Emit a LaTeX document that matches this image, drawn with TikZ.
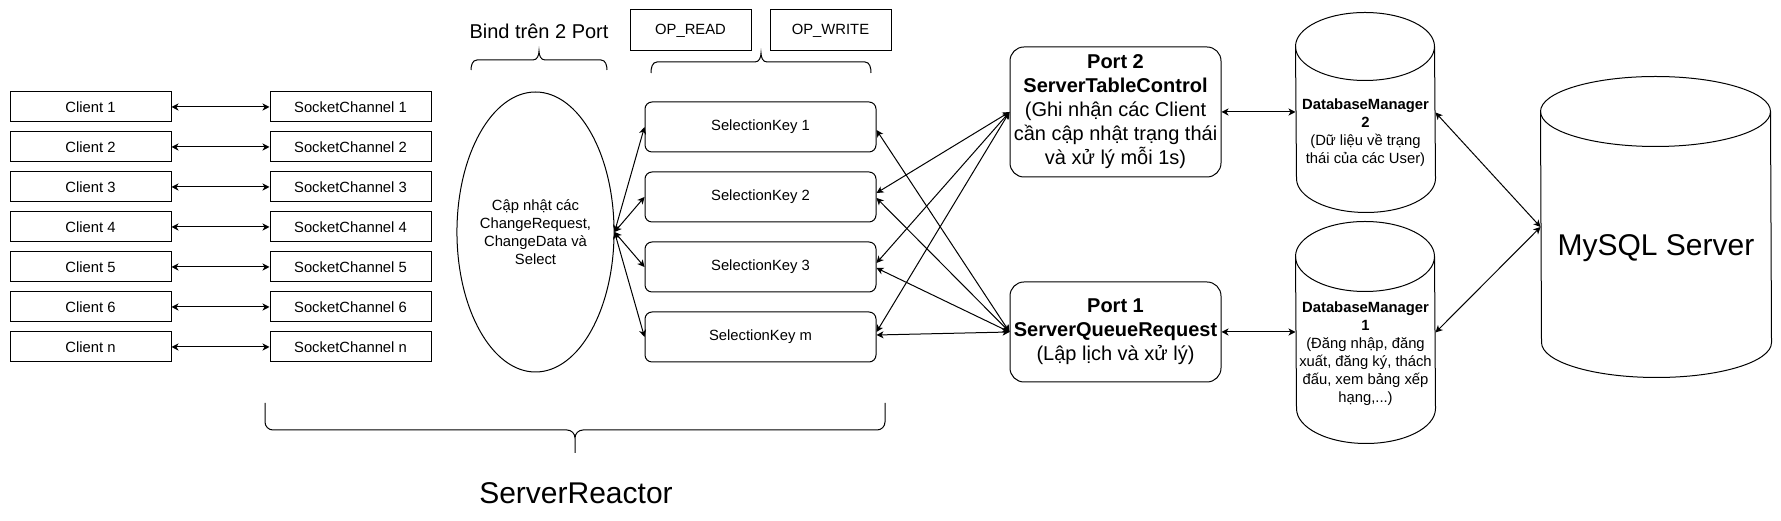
\documentclass[tikz,border=0pt]{standalone}
\usepackage{fontspec}
\setmainfont{Liberation Sans}
\usetikzlibrary{positioning, shapes.geometric, arrows.meta}

% cylinder outline round a named node: node, x radius, y radius
\newcommand{\dbcyl}[3]{%
  \draw ([yshift=-#3]#1.north west) arc[start angle=180, end angle=0, x radius=#2, y radius=#3]
    -- ([yshift=#3]#1.south east) arc[start angle=0, end angle=-180, x radius=#2, y radius=#3] -- cycle;
  \draw ([yshift=-#3]#1.north west) arc[start angle=180, end angle=360, x radius=#2, y radius=#3];
}

\begin{document}
\begin{tikzpicture}[x=1pt, y=1pt, line width=1pt,
    font=\fontsize{14.8}{18}\selectfont,
    box/.style={draw, minimum width=161pt, minimum height=30pt, inner sep=0pt},
    opbox/.style={draw, minimum width=121pt, minimum height=41pt, inner sep=0pt},
    keybox/.style={draw, rounded corners=7pt, minimum width=231pt, minimum height=50pt, inner sep=0pt},
    portbox/.style={draw, rounded corners=14pt, minimum width=211pt, inner sep=0pt, align=center,
      font=\fontsize{20}{24}\selectfont},
    dbnode/.style={minimum width=139pt, inner sep=0pt},
    biarrow/.style={{Stealth[length=7pt,width=7pt,inset=2pt]}-{Stealth[length=7pt,width=7pt,inset=2pt]}},
  ]
  \useasboundingbox (0,0) rectangle (1781,521);

  % clients and their channels
  \node[box] (c1) at (90.5,414) {Client 1};
  \node[box] (c2) [below=9pt of c1] {Client 2};
  \node[box] (c3) [below=9pt of c2] {Client 3};
  \node[box] (c4) [below=9pt of c3] {Client 4};
  \node[box] (c5) [below=9pt of c4] {Client 5};
  \node[box] (c6) [below=9pt of c5] {Client 6};
  \node[box] (cn) [below=9pt of c6] {Client n};

  \node[box] (s1) [right=98pt of c1] {SocketChannel 1};
  \node[box] (s2) [right=98pt of c2] {SocketChannel 2};
  \node[box] (s3) [right=98pt of c3] {SocketChannel 3};
  \node[box] (s4) [right=98pt of c4] {SocketChannel 4};
  \node[box] (s5) [right=98pt of c5] {SocketChannel 5};
  \node[box] (s6) [right=98pt of c6] {SocketChannel 6};
  \node[box] (sn) [right=98pt of cn] {SocketChannel n};

  % selector
  \node[draw, ellipse, minimum width=139pt, minimum height=280pt, inner sep=0pt, align=center]
    (sel) at (535.5,289) {Cập nhật các\\ChangeRequest,\\ChangeData và\\Select};
  \node[font=\fontsize{20}{24}\selectfont] (bind) at (539,490) {Bind trên 2 Port};

  \node[opbox] (opr) at (690.5,490.5) {OP\_READ};
  \node[opbox] (opw) [right=18pt of opr] {OP\_WRITE};

  \node[keybox] (k1) at (760.5,394) {SelectionKey 1};
  \node[keybox] (k2) [below=19pt of k1] {SelectionKey 2};
  \node[keybox] (k3) [below=19pt of k2] {SelectionKey 3};
  \node[keybox] (km) [below=19pt of k3] {SelectionKey m};

  % ports
  \node[portbox, minimum height=130pt] (p2) at (1115.5,409)
    {\textbf{Port 2}\\\textbf{ServerTableControl}\\(Ghi nhận các Client\\cần cập nhật trạng thái\\và xử lý mỗi 1s)};
  \node[portbox, minimum height=100pt] (p1) at (1115.5,189)
    {\textbf{Port 1}\\\textbf{ServerQueueRequest}\\(Lập lịch và xử lý)};

  % databases
  \node[dbnode, minimum height=199pt] (db2) at (1365.5,408.5) {};
  \node[dbnode, minimum height=221pt] (db1) at (1365.5,188.5) {};
  \node[minimum width=230pt, minimum height=300pt, inner sep=0pt] (mysql) at (1656,294) {};
  \dbcyl{db2}{69.5pt}{34pt}
  \dbcyl{db1}{69.5pt}{35pt}
  \dbcyl{mysql}{115pt}{35pt}
  \node[align=center] (db2txt) at (1365.5,388)
    {\textbf{DatabaseManager}\\\textbf{2}\\(Dữ liệu về trạng\\thái của các User)};
  \node[align=center] (db1txt) at (1365.5,167)
    {\textbf{DatabaseManager}\\\textbf{1}\\(Đăng nhập, đăng\\xuất, đăng ký, thách\\đấu, xem bảng xếp\\hạng,...)};
  \node[font=\fontsize{30}{36}\selectfont] (mysqltxt) at (1656,273) {MySQL Server};

  \node[font=\fontsize{30}{36}\selectfont] (reactor) at (576,28) {ServerReactor};

  % braces
  \draw (471,451) to[out=90,in=180] (477,461) -- (533,461) to[out=0,in=-90] (539,470)
    to[out=-90,in=180] (545,461) -- (601,461) to[out=0,in=90] (607,451);
  \draw (651,448) to[out=90,in=180] (657,459) -- (755,459) to[out=0,in=-90] (761,468)
    to[out=-90,in=180] (767,459) -- (865,459) to[out=0,in=90] (871,448);
  \draw (265,118) -- (265,99) to[out=-90,in=180] (273,91) -- (567,91) to[out=0,in=90] (575,83) -- (575,68)
    (575,83) to[out=90,in=180] (583,91) -- (877,91) to[out=0,in=-90] (885,99) -- (885,118);

  % links
  \draw[biarrow] (c1) -- (s1);
  \draw[biarrow] (c2) -- (s2);
  \draw[biarrow] (c3) -- (s3);
  \draw[biarrow] (c4) -- (s4);
  \draw[biarrow] (c5) -- (s5);
  \draw[biarrow] (c6) -- (s6);
  \draw[biarrow] (cn) -- (sn);

  \draw[biarrow] (sel.east) -- (k1.west);
  \draw[biarrow] (sel.east) -- (k2.west);
  \draw[biarrow] (sel.east) -- (k3.west);
  \draw[biarrow] (sel.east) -- (km.west);

  \draw[biarrow] (p2.west) -- ([yshift=4pt]k2.east);
  \draw[biarrow] (p2.west) -- ([yshift=4pt]k3.east);
  \draw[biarrow] (p2.west) -- ([yshift=5pt]km.east);
  \draw[biarrow] (p1.west) -- ([yshift=-3pt]k1.east);
  \draw[biarrow] (p1.west) -- ([yshift=-1pt]k2.east);
  \draw[biarrow] (p1.west) -- ([yshift=-1pt]k3.east);
  \draw[biarrow] (p1.west) -- ([yshift=2pt]km.east);

  \draw[biarrow] (p2.east) -- (p2.east -| db2.west);
  \draw[biarrow] (p1.east) -- (p1.east -| db1.west);
  \draw[biarrow] (db2.east) -- (mysql.west);
  \draw[biarrow] (db1.east) -- (mysql.west);
\end{tikzpicture}
\end{document}
